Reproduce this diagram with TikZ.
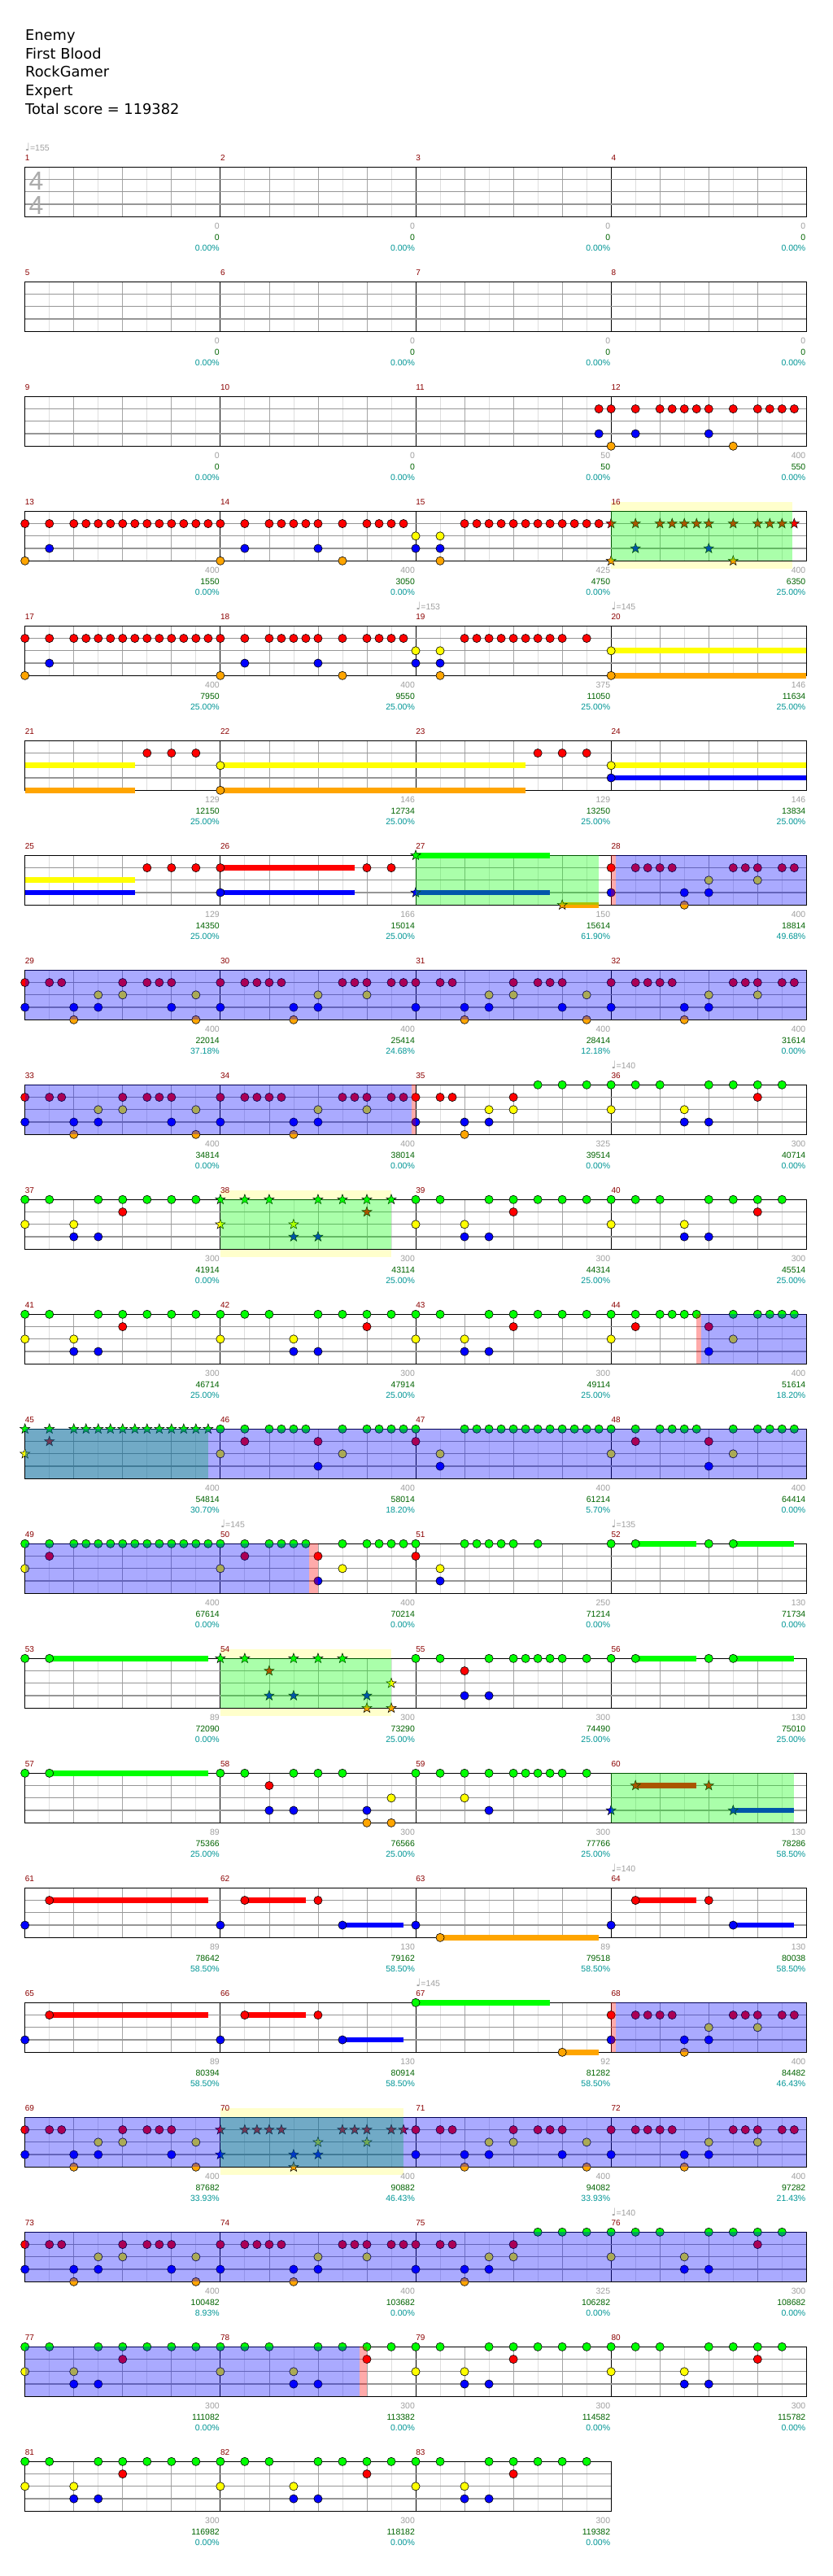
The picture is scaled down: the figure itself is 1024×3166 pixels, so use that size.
\documentclass[tikz,border=0pt]{standalone}
\usepackage{fontspec}
\setmainfont{Liberation Sans}
\newfontfamily\headfont{DejaVu Sans}

\definecolor{noteg}{RGB}{0,255,0}
\definecolor{noter}{RGB}{255,0,0}
\definecolor{notey}{RGB}{255,255,0}
\definecolor{noteb}{RGB}{0,0,255}
\definecolor{noteo}{RGB}{255,165,0}
\definecolor{barred}{RGB}{139,0,0}
\definecolor{ptsgray}{RGB}{160,160,160}
\definecolor{ptsgreen}{RGB}{0,100,0}
\definecolor{ptscyan}{RGB}{0,150,150}
\definecolor{gridlight}{RGB}{222,222,222}
\definecolor{gridmid}{RGB}{165,165,165}
\definecolor{lanegray}{RGB}{150,150,150}
\definecolor{bandyellow}{RGB}{255,255,204}

% lane heights inside a staff (top border = green)
\newcommand\laneg{0}
\newcommand\laner{15.25}
\newcommand\laney{30.5}
\newcommand\laneb{45.75}
\newcommand\laneo{61}

\tikzset{
  note/.style={draw=black, line width=0.6pt},
  barno/.style={text=barred, anchor=base west, inner sep=0pt, font=\fontsize{10}{12}\selectfont},
  ptsA/.style={text=ptsgray, anchor=base east, inner sep=0pt, font=\fontsize{10.5}{12}\selectfont},
  ptsB/.style={text=ptsgreen, anchor=base east, inner sep=0pt, font=\fontsize{10.5}{12}\selectfont},
  ptsC/.style={text=ptscyan, anchor=base east, inner sep=0pt, font=\fontsize{10.5}{12}\selectfont},
  tempomark/.style={text=ptsgray, anchor=base west, inner sep=0pt, font=\fontsize{10.5}{12}\selectfont},
  timesig/.style={text=black!33, anchor=base, inner sep=0pt, font=\fontsize{32}{32}\selectfont},
  headline/.style={anchor=base west, inner sep=0pt, font=\headfont\fontsize{17.8}{22}\selectfont}
}

\newcommand\staff[2]{%
  \def\rr{#1}%
  \pgfmathsetmacro\sw{240.2*#2}%
  \pgfmathtruncatemacro\nl{8*#2-1}%
  \fill[white] (30.7,0) rectangle ++(\sw,61);
  \foreach \gl in {1,...,\nl}{%
    \pgfmathtruncatemacro\gm{mod(\gl,8)}%
    \pgfmathtruncatemacro\gev{mod(\gl,2)}%
    \ifnum\gm=0 \def\gc{black}\else\ifnum\gev=0 \def\gc{gridmid}\else\def\gc{gridlight}\fi\fi
    \draw[\gc, line width=0.9pt] ({30.7+30.025*\gl},0) -- ++(0,61);
  }
  \foreach \yy in {15.25,30.5,45.75}
    \draw[lanegray, line width=1.2pt] (30.7,\yy) -- ++(\sw,0);
  \draw[black, line width=1.3pt] (30.7,0) rectangle ++(\sw,61);
  \foreach \col in {1,...,#2}{%
    \pgfmathtruncatemacro\mm{4*(#1-1)+\col}%
    \node[barno] (bar\mm) at ({30.7+240.2*(\col-1)},-7.6) {\mm};
  }%
}
\newcommand\notes[2]{%
  \edef\ly{\csname lane#1\endcsname}%
  \foreach \st in {#2}
    \path[note, fill=note#1] ({30.7+15.01*\st},\ly) circle[radius=5.1pt];
}
\newcommand\stars[2]{%
  \edef\ly{\csname lane#1\endcsname}%
  \foreach \st in {#2}
    \path[note, line width=0.5pt, fill=note#1, shift={({30.7+15.01*\st},\ly)}]
      (90:6.4pt) -- (126:2.6pt) -- (162:6.4pt) -- (198:2.6pt) -- (234:6.4pt) --
      (270:2.6pt) -- (306:6.4pt) -- (342:2.6pt) -- (18:6.4pt) -- (54:2.6pt) -- cycle;
}
\newcommand\sus[3]{%
  \edef\ly{\csname lane#1\endcsname}%
  \fill[note#1] ({30.7+15.01*#2},\ly-3.4) rectangle ({30.7+15.01*#3},\ly+3.4);
}
\newcommand\band[2]{\fill[bandyellow] ({30.7+15.01*#1},-11) rectangle ({30.7+15.01*#2},71);}
\newcommand\spgreen[2]{\fill[noteg, fill opacity=0.333] ({30.7+15.01*#1},0) rectangle ({30.7+15.01*#2},61);}
\newcommand\spblue[2]{\fill[noteb, fill opacity=0.333] ({30.7+15.01*#1},0) rectangle ({30.7+15.01*#2},61);}
\newcommand\sppink[2]{\fill[noter, fill opacity=0.333] ({30.7+15.01*#1},0) rectangle ({30.7+15.01*#2},61);}
\newcommand\tempo[2]{\node[tempomark] (tempo\rr-#1) at ({30.7+240.2*#1},-20.3)
  {{\headfont\fontsize{13}{13}\selectfont\symbol{"2669}}=#2};}
\newcommand\scores[1]{%
  \foreach \col/\ptA/\ptB/\pct in {#1}{%
    \node[ptsA] (pa\rr-\col) at ({30.7+240.2*\col-1},76.4) {\ptA};
    \node[ptsB] (pb\rr-\col) at ({30.7+240.2*\col-1},89.7) {\ptB};
    \node[ptsC] (pc\rr-\col) at ({30.7+240.2*\col-1},102.7) {\pct\%};
  }%
}

\begin{document}
\begin{tikzpicture}[x=1pt, y=-1pt]
\useasboundingbox (0,0) rectangle (1024,3166);
\fill[white] (0,0) rectangle (1024,3166);

\node[headline] (song) at (31,49.3) {Enemy};
\node[headline] (album) at (31,72.1) {First Blood};
\node[headline] (player) at (31,94.9) {RockGamer};
\node[headline] (level) at (31,117.7) {Expert};
\node[headline] (total) at (31,140.5) {Total score = 119382};

% measures 1-4
\begin{scope}[shift={(0,205.3)}]
  \staff{1}{4}
  \node[timesig] (tsup) at (44.5,28) {4};
  \node[timesig] (tsdown) at (44.5,58) {4};
  \tempo{0}{155}
  \scores{1/0/0/0.00, 2/0/0/0.00, 3/0/0/0.00, 4/0/0/0.00}
\end{scope}

% measures 5-8
\begin{scope}[shift={(0,346.3)}]
  \staff{2}{4}
  \scores{1/0/0/0.00, 2/0/0/0.00, 3/0/0/0.00, 4/0/0/0.00}
\end{scope}

% measures 9-12
\begin{scope}[shift={(0,487.3)}]
  \staff{3}{4}
  \notes{r}{47,48,50,52,53,54,55,56,58,60,61,62,63}
  \notes{b}{47,50,56}
  \notes{o}{48,58}
  \scores{1/0/0/0.00, 2/0/0/0.00, 3/50/50/0.00, 4/400/550/0.00}
\end{scope}

% measures 13-16
\begin{scope}[shift={(0,628.3)}]
  \band{48}{62.85}
  \staff{4}{4}
  \notes{r}{0,2,4,5,6,7,8,9,10,11,12,13,14,15,16,18,20,21,22,23,24,26,28,29,30,31,36,37,38,39,40,41,42,43,44,45,46,47}
  \stars{r}{48,50,52,53,54,55,56,58,60,61,62,63}
  \notes{y}{32,34}
  \notes{b}{2,18,24,32,34}
  \stars{b}{50,56}
  \notes{o}{0,16,26,34}
  \stars{o}{48,58}
  \spgreen{48}{62.85}
  \scores{1/400/1550/0.00, 2/400/3050/0.00, 3/425/4750/0.00, 4/400/6350/25.00}
\end{scope}

% measures 17-20
\begin{scope}[shift={(0,769.3)}]
  \staff{5}{4}
  \sus{y}{48}{64}
  \sus{o}{48}{64}
  \notes{r}{0,2,4,5,6,7,8,9,10,11,12,13,14,15,16,18,20,21,22,23,24,26,28,29,30,31,36,37,38,39,40,41,42,43,44,46}
  \notes{y}{32,34,48}
  \notes{b}{2,18,24,32,34}
  \notes{o}{0,16,26,34,48}
  \tempo{2}{153}
  \tempo{3}{145}
  \scores{1/400/7950/25.00, 2/400/9550/25.00, 3/375/11050/25.00, 4/146/11634/25.00}
\end{scope}

% measures 21-24
\begin{scope}[shift={(0,910.3)}]
  \staff{6}{4}
  \sus{y}{0}{9}
  \sus{o}{0}{9}
  \sus{y}{16}{41}
  \sus{o}{16}{41}
  \sus{y}{48}{64}
  \sus{b}{48}{64}
  \notes{r}{10,12,14,42,44,46}
  \notes{y}{16,48}
  \notes{o}{16}
  \notes{b}{48}
  \scores{1/129/12150/25.00, 2/146/12734/25.00, 3/129/13250/25.00, 4/146/13834/25.00}
\end{scope}

% measures 25-28
\begin{scope}[shift={(0,1051.3)}]
  \staff{7}{4}
  \sus{y}{0}{9}
  \sus{b}{0}{9}
  \sus{r}{16}{27}
  \sus{b}{16}{27}
  \sus{g}{32}{43}
  \sus{b}{32}{43}
  \sus{o}{44}{47}
  \notes{r}{10,12,14,16,28,30,48,50,51,52,53,58,59,60,62,63}
  \notes{y}{56,60}
  \notes{b}{16,48,54,56}
  \notes{o}{54}
  \stars{g}{32}
  \stars{b}{32}
  \stars{o}{44}
  \spgreen{32}{47}
  \sppink{48}{48.4}
  \spblue{48.4}{64}
  \scores{1/129/14350/25.00, 2/166/15014/25.00, 3/150/15614/61.90, 4/400/18814/49.68}
\end{scope}

% measures 29-32
\begin{scope}[shift={(0,1192.3)}]
  \staff{8}{4}
  \notes{r}{0,2,3,8,10,11,12,16,18,19,20,21,26,27,28,30,31,32,34,35,40,42,43,44,48,50,51,52,53,58,59,60,62,63}
  \notes{y}{6,8,14,24,28,38,40,46,56,60}
  \notes{b}{0,4,6,12,16,22,24,32,36,38,44,48,54,56}
  \notes{o}{4,14,22,36,46,54}
  \spblue{0}{64}
  \scores{1/400/22014/37.18, 2/400/25414/24.68, 3/400/28414/12.18, 4/400/31614/0.00}
\end{scope}

% measures 33-36
\begin{scope}[shift={(0,1333.3)}]
  \staff{9}{4}
  \notes{g}{42,44,46,48,50,52,56,58,60,62}
  \notes{r}{0,2,3,8,10,11,12,16,18,19,20,21,26,27,28,30,31,32,34,35,40,60}
  \notes{y}{6,8,14,24,28,38,40,48,54}
  \notes{b}{0,4,6,12,16,22,24,32,36,38,54,56}
  \notes{o}{4,14,22,36}
  \spblue{0}{31.65}
  \sppink{31.65}{32}
  \tempo{3}{140}
  \scores{1/400/34814/0.00, 2/400/38014/0.00, 3/325/39514/0.00, 4/300/40714/0.00}
\end{scope}

% measures 37-40
\begin{scope}[shift={(0,1474.3)}]
  \band{16}{30}
  \staff{10}{4}
  \notes{g}{0,2,6,8,10,12,14,32,34,38,40,42,44,46,48,50,52,56,58,60,62}
  \stars{g}{16,18,20,24,26,28,30}
  \notes{r}{8,40,60}
  \stars{r}{28}
  \notes{y}{0,4,32,36,48,54}
  \stars{y}{16,22}
  \notes{b}{4,6,36,38,54,56}
  \stars{b}{22,24}
  \spgreen{16}{30}
  \scores{1/300/41914/0.00, 2/300/43114/25.00, 3/300/44314/25.00, 4/300/45514/25.00}
\end{scope}

% measures 41-44
\begin{scope}[shift={(0,1615.3)}]
  \staff{11}{4}
  \notes{g}{0,2,6,8,10,12,14,16,18,20,24,26,28,30,32,34,38,40,42,44,46,48,50,52,53,54,55,58,60,61,62,63}
  \notes{r}{8,28,40,50,56}
  \notes{y}{0,4,16,22,32,36,48,58}
  \notes{b}{4,6,22,24,36,38,56}
  \sppink{55}{55.35}
  \spblue{55.35}{64}
  \scores{1/300/46714/25.00, 2/300/47914/25.00, 3/300/49114/25.00, 4/400/51614/18.20}
\end{scope}

% measures 45-48
\begin{scope}[shift={(0,1756.3)}]
  \staff{12}{4}
  \stars{g}{0,2,4,5,6,7,8,9,10,11,12,13,14,15}
  \notes{g}{16,18,20,21,22,23,26,28,29,30,31,32,36,37,38,39,40,41,42,43,44,45,46,47,48,50,52,53,54,55,58,60,61,62,63}
  \stars{r}{2}
  \notes{r}{18,24,32,50,56}
  \stars{y}{0}
  \notes{y}{16,26,34,48,58}
  \notes{b}{24,34,56}
  \spgreen{0}{15}
  \spblue{0}{64}
  \scores{1/400/54814/30.70, 2/400/58014/18.20, 3/400/61214/5.70, 4/400/64414/0.00}
\end{scope}

% measures 49-52
\begin{scope}[shift={(0,1897.3)}]
  \staff{13}{4}
  \sus{g}{50}{55}
  \sus{g}{58}{63}
  \notes{g}{0,2,4,5,6,7,8,9,10,11,12,13,14,15,16,18,20,21,22,23,26,28,29,30,31,32,36,37,38,39,40,42,48,50,56,58}
  \notes{r}{2,18,24,32}
  \notes{y}{0,16,26,34}
  \notes{b}{24,34}
  \spblue{0}{23.3}
  \sppink{23.3}{24}
  \tempo{1}{145}
  \tempo{3}{135}
  \scores{1/400/67614/0.00, 2/400/70214/0.00, 3/250/71214/0.00, 4/130/71734/0.00}
\end{scope}

% measures 53-56
\begin{scope}[shift={(0,2038.3)}]
  \band{16}{30}
  \staff{14}{4}
  \sus{g}{2}{15}
  \sus{g}{50}{55}
  \sus{g}{58}{63}
  \notes{g}{0,2,32,34,38,40,41,42,43,44,46,48,50,56,58}
  \stars{g}{16,18,22,24,26}
  \stars{r}{20}
  \notes{r}{36}
  \stars{y}{30}
  \stars{b}{20,22,28}
  \notes{b}{36,38}
  \stars{o}{28,30}
  \spgreen{16}{30}
  \scores{1/89/72090/0.00, 2/300/73290/25.00, 3/300/74490/25.00, 4/130/75010/25.00}
\end{scope}

% measures 57-60
\begin{scope}[shift={(0,2179.3)}]
  \staff{15}{4}
  \sus{g}{2}{15}
  \sus{r}{50}{55}
  \sus{b}{58}{63}
  \notes{g}{0,2,16,18,22,24,26,32,34,36,38,40,41,42,43,44,46}
  \notes{r}{20}
  \stars{r}{50,56}
  \notes{y}{30,36}
  \notes{b}{20,22,28,38}
  \stars{b}{48,58}
  \notes{o}{28,30}
  \spgreen{48}{63}
  \scores{1/89/75366/25.00, 2/300/76566/25.00, 3/300/77766/25.00, 4/130/78286/58.50}
\end{scope}

% measures 61-64
\begin{scope}[shift={(0,2320.3)}]
  \staff{16}{4}
  \sus{r}{2}{15}
  \sus{r}{18}{23}
  \sus{r}{50}{55}
  \sus{b}{26}{31}
  \sus{b}{58}{63}
  \sus{o}{34}{47}
  \notes{r}{2,18,24,50,56}
  \notes{b}{0,16,26,32,48,58}
  \notes{o}{34}
  \tempo{3}{140}
  \scores{1/89/78642/58.50, 2/130/79162/58.50, 3/89/79518/58.50, 4/130/80038/58.50}
\end{scope}

% measures 65-68
\begin{scope}[shift={(0,2461.3)}]
  \staff{17}{4}
  \sus{g}{32}{43}
  \sus{r}{2}{15}
  \sus{r}{18}{23}
  \sus{b}{26}{31}
  \sus{o}{44}{47}
  \notes{g}{32}
  \notes{r}{2,18,24,48,50,51,52,53,58,59,60,62,63}
  \notes{y}{56,60}
  \notes{b}{0,16,26,48,54,56}
  \notes{o}{44,54}
  \sppink{48}{48.4}
  \spblue{48.4}{64}
  \tempo{2}{145}
  \scores{1/89/80394/58.50, 2/130/80914/58.50, 3/92/81282/58.50, 4/400/84482/46.43}
\end{scope}

% measures 69-72
\begin{scope}[shift={(0,2602.3)}]
  \band{16}{31}
  \staff{18}{4}
  \notes{r}{0,2,3,8,10,11,12,32,34,35,40,42,43,44,48,50,51,52,53,58,59,60,62,63}
  \stars{r}{16,18,19,20,21,26,27,28,30,31}
  \notes{y}{6,8,14,38,40,46,56,60}
  \stars{y}{24,28}
  \notes{b}{0,4,6,12,32,36,38,44,48,54,56}
  \stars{b}{16,22,24}
  \notes{o}{4,14,36,46,54}
  \stars{o}{22}
  \spgreen{16}{31}
  \spblue{0}{64}
  \scores{1/400/87682/33.93, 2/400/90882/46.43, 3/400/94082/33.93, 4/400/97282/21.43}
\end{scope}

% measures 73-76
\begin{scope}[shift={(0,2743.3)}]
  \staff{19}{4}
  \notes{g}{42,44,46,48,50,52,56,58,60,62}
  \notes{r}{0,2,3,8,10,11,12,16,18,19,20,21,26,27,28,30,31,32,34,35,40,60}
  \notes{y}{6,8,14,24,28,38,40,48,54}
  \notes{b}{0,4,6,12,16,22,24,32,36,38,54,56}
  \notes{o}{4,14,22,36}
  \spblue{0}{64}
  \tempo{3}{140}
  \scores{1/400/100482/8.93, 2/400/103682/0.00, 3/325/106282/0.00, 4/300/108682/0.00}
\end{scope}

% measures 77-80
\begin{scope}[shift={(0,2884.3)}]
  \staff{20}{4}
  \notes{g}{0,2,6,8,10,12,14,16,18,20,24,26,28,30,32,34,38,40,42,44,46,48,50,52,56,58,60,62}
  \notes{r}{8,28,40,60}
  \notes{y}{0,4,16,22,32,36,48,54}
  \notes{b}{4,6,22,24,36,38,54,56}
  \spblue{0}{27.4}
  \sppink{27.4}{28}
  \scores{1/300/111082/0.00, 2/300/113382/0.00, 3/300/114582/0.00, 4/300/115782/0.00}
\end{scope}

% measures 81-83
\begin{scope}[shift={(0,3025.3)}]
  \staff{21}{3}
  \notes{g}{0,2,6,8,10,12,14,16,18,20,24,26,28,30,32,34,38,40,42,44,46}
  \notes{r}{8,28,40}
  \notes{y}{0,4,16,22,32,36}
  \notes{b}{4,6,22,24,36,38}
  \scores{1/300/116982/0.00, 2/300/118182/0.00, 3/300/119382/0.00}
\end{scope}

\end{tikzpicture}
\end{document}
